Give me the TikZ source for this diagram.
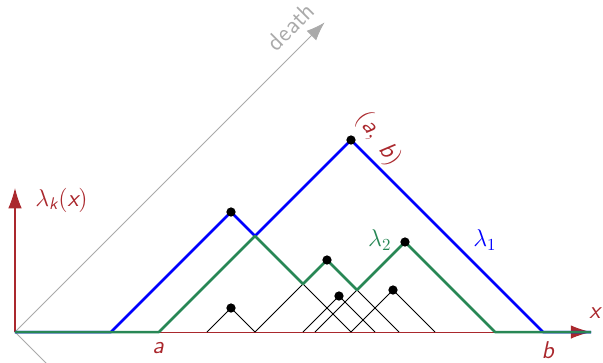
\documentclass[tikz,border=0pt]{standalone}
\usepackage{xcolor}
\usepackage{amsmath}
\usepackage{tikz}
\usetikzlibrary{arrows.meta, positioning, calc}
\definecolor{axisred}{RGB}{170,40,45}
\definecolor{landblue}{RGB}{0,0,255}
\definecolor{landgreen}{RGB}{40,135,85}
\definecolor{diaggray}{RGB}{170,170,170}
\newcommand{\sfv}[1]{\text{\itshape #1}}
\tikzset{
  axis/.style={-{Latex[length=12pt,width=8pt]}, color=axisred, line width=0.6pt},
  diag/.style={color=diaggray, line width=0.5pt},
  tent/.style={black, line width=0.5pt},
  lamone/.style={landblue, line width=1.5pt, line join=round},
  lamtwo/.style={landgreen, line width=1.5pt, line join=round},
  dot/.style={circle, fill=black, inner sep=0pt, minimum size=5.5pt},
  lbl/.style={font=\Large\sffamily}
}

\begin{document}
\begin{tikzpicture}[x=1cm, y=1cm]
  \useasboundingbox (-0.3125,-0.625) rectangle (12.25,6.917);
  \clip (-0.3125,-0.625) rectangle (12.25,6.917);

  % Diagonal axes
  \coordinate (o) at (0,0);
  \coordinate (dtip) at (6.45,6.45);
  \coordinate (btip) at (1.2,-1.2);
  \draw[diag, -{Latex[length=11pt,width=8pt]}] (o) -- (dtip);
  \node[lbl, text=diaggray, rotate=45] (death) at (5.74,6.36) {death};
  \draw[diag] (o) -- (btip);

  % Axes
  \coordinate (xtip) at (12,0);
  \coordinate (ytip) at (0,3);
  \draw[axis] (o) -- (xtip);
  \draw[axis] (o) -- (ytip);
  \node[lbl, text=axisred, anchor=west] (ylab) at (0.3,2.75) {$\lambda_{\sfv{k}}(\sfv{x})$};
  \node[lbl, text=axisred] (xlab) at (12.08,0.4) {$\sfv{x}$};
  \node[lbl, text=axisred] (alab) at (2.98,-0.33) {$\sfv{a}$};
  \node[lbl, text=axisred] (blab) at (11.1,-0.37) {$\sfv{b}$};

  % Tents
  \foreach \b/\d in {2/7, 3/11, 4/5, 5/8, 6.25/10, 6/7.5, 7/8.75}
    \draw[tent] (\b,0) -- ({(\b+\d)/2},{(\d-\b)/2}) -- (\d,0);

  % Landscapes
  \draw[lamone] (o) -- (2,0) -- (4.5,2.5) -- (5,2) -- (7,4) -- (11,0) -- (xtip);
  \draw[lamtwo] (o) -- (3,0) -- (5,2) -- (6,1) -- (6.5,1.5) -- (7.125,0.875)
    -- (8.125,1.875) -- (10,0) -- (xtip);

  % Points
  \foreach \b/\d [count=\i] in {2/7, 3/11, 4/5, 5/8, 6.25/10, 6/7.5, 7/8.75}
    \node[dot] (p\i) at ({(\b+\d)/2},{(\d-\b)/2}) {};

  % Labels
  \node[lbl, text=axisred, rotate=-55] (ab) at ([shift={(0.57,0.02)}]p2) {$(\sfv{a},\ \sfv{b})$};
  \node[lbl, text=landblue] (l1) at (9.79,1.92) {$\lambda_1$};
  \node[lbl, text=landgreen] (l2) at (7.6,1.92) {$\lambda_2$};

\end{tikzpicture}
\end{document}
